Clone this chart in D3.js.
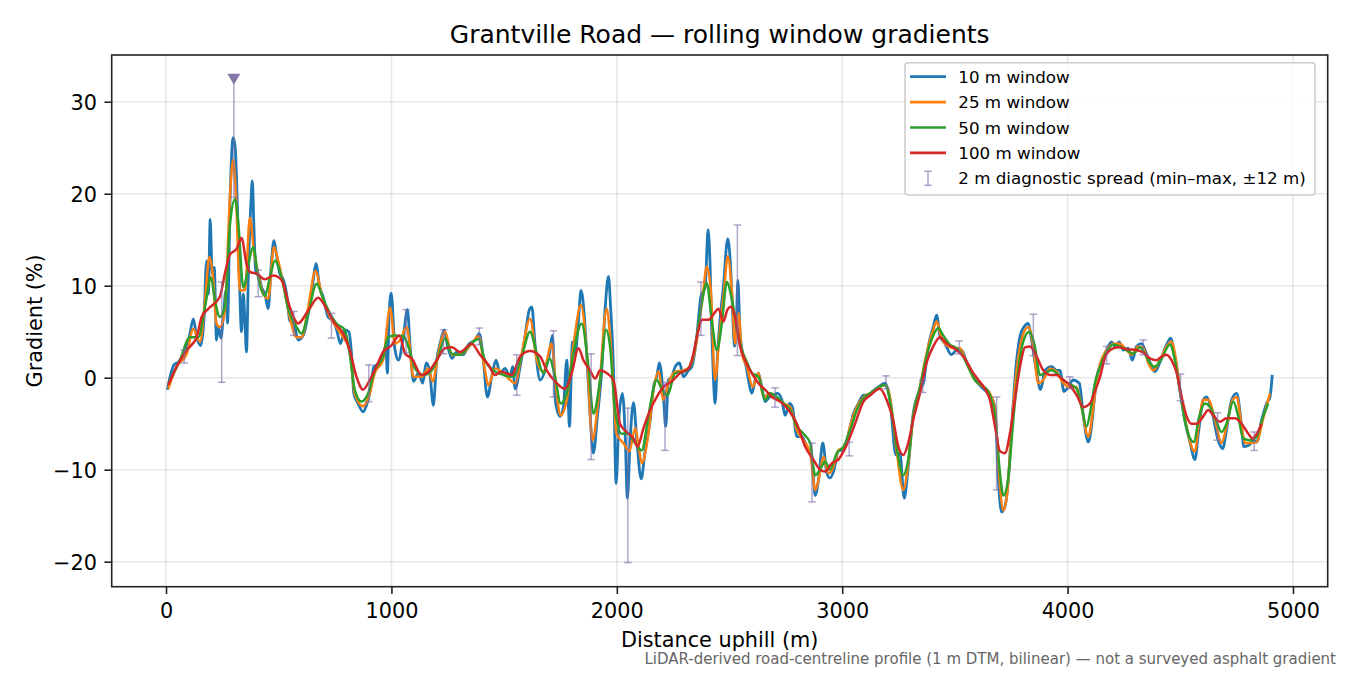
<!DOCTYPE html>
<html>
<head>
<meta charset="utf-8">
<script src="https://cdn.jsdelivr.net/npm/d3@7"></script>
<style>
  body { margin: 0; background: #fff; }
  svg { display: block; font-family: "DejaVu Sans", sans-serif; }
</style>
</head>
<body>
<div id="chart"></div>
<script>
// [distance uphill (m), gradient (%)]
const win10 = [
  [6,-1.3],[18,0.1],[35,1.4],[55,1.7],[77,2.6],[103,4.4],[121,6.4],[136,4.4],[154,3.5],[168,6.2],
  [180,12.7],[188,9.1],[196,17.2],[205,11.3],[214,12.0],[224,4.1],[232,5.5],[244,4.3],[254,6.6],
  [266,9.5],[273,5.9],[284,19.2],[298,26.1],[307,25.0],[316,19.2],[325,11.3],[335,5.0],[343,9.1],
  [350,6.2],[357,2.8],[366,12.0],[377,19.2],[383,21.4],[390,16.3],[399,11.3],[409,11.3],[424,9.8],
  [439,9.1],[453,7.5],[468,12.7],[479,14.9],[490,13.4],[505,11.3],[520,10.7],[535,9.1],[549,6.2],
  [567,5.9],[586,4.1],[609,4.6],[631,7.0],[653,10.6],[665,12.4],[682,9.8],[697,8.8],[719,6.6],
  [741,6.2],[756,5.3],[774,3.7],[793,5.2],[811,5.0],[823,2.6],[833,-1.7],[852,-2.8],[874,-3.7],
  [892,-2.8],[907,-1.3],[922,1.2],[941,1.5],[963,2.6],[975,3.4],[982,0.5],[990,7.0],[999,9.2],
  [1016,3.0],[1031,1.9],[1053,4.5],[1071,7.4],[1083,3.4],[1098,-0.4],[1120,0.5],[1139,-0.6],
  [1154,1.6],[1169,0.8],[1186,-3.0],[1201,1.9],[1216,3.7],[1234,5.2],[1248,3.6],[1268,2.1],
  [1290,2.8],[1319,2.5],[1342,3.6],[1371,4.1],[1390,4.8],[1405,2.6],[1426,-2.1],[1445,0.1],
  [1464,1.9],[1482,0.5],[1504,1.0],[1526,0.1],[1538,1.2],[1549,-1.2],[1571,1.2],[1593,4.5],
  [1612,7.4],[1623,7.7],[1637,3.7],[1660,-0.25],[1682,0.8],[1701,2.6],[1714,4.6],[1729,-2.8],
  [1748,-4.2],[1763,-3.2],[1778,1.9],[1790,-5.3],[1803,3.9],[1815,2.6],[1830,6.3],[1841,9.5],
  [1855,7.0],[1867,2.3],[1881,-3.9],[1896,-8.2],[1914,-4.2],[1933,0.8],[1948,7.4],[1963,11.0],
  [1973,7.4],[1985,1.2],[1997,-11.5],[2010,-4.2],[2025,-1.7],[2037,-6.1],[2047,-13.1],[2059,-6.8],
  [2074,-2.7],[2090,-7.2],[2108,-11.0],[2126,-7.9],[2148,-4.6],[2163,-1.0],[2177,0.1],[2189,1.6],
  [2207,-2.1],[2217,-5.3],[2229,-0.25],[2244,0.1],[2259,1.2],[2278,1.6],[2296,0.1],[2318,0.8],
  [2333,1.2],[2355,4.5],[2373,8.8],[2392,9.9],[2405,16.1],[2414,12.1],[2421,5.2],[2429,-0.25],
  [2436,-2.8],[2447,2.6],[2458,6.3],[2473,9.9],[2492,15.1],[2503,12.8],[2513,7.7],[2522,3.4],
  [2529,4.5],[2537,10.6],[2547,4.8],[2559,2.6],[2574,1.2],[2584,-0.25],[2599,-1.7],[2614,-0.25],
  [2628,0.5],[2643,-1.0],[2658,-2.6],[2677,-2.1],[2695,-1.9],[2713,-1.7],[2732,-2.4],[2747,-4.1],
  [2766,-2.8],[2779,-3.2],[2799,-6.4],[2821,-6.4],[2843,-7.5],[2865,-8.6],[2880,-12.8],[2895,-11.1],
  [2914,-7.1],[2932,-10.4],[2946,-10.9],[2964,-10.0],[2983,-7.9],[3006,-7.9],[3028,-6.1],
  [3050,-3.9],[3072,-2.8],[3094,-1.9],[3117,-1.9],[3139,-1.4],[3161,-1.0],[3190,-0.6],[3212,-2.4],
  [3238,-8.4],[3256,-8.2],[3275,-13.1],[3293,-9.7],[3315,-3.9],[3345,-1.3],[3360,-0.6],[3382,3.4],
  [3404,5.5],[3419,6.8],[3434,4.5],[3456,3.7],[3485,2.5],[3508,3.0],[3530,3.0],[3552,1.7],
  [3574,0.5],[3596,-0.4],[3626,-1.2],[3648,-1.7],[3678,-3.2],[3692,-10.8],[3707,-14.6],
  [3722,-14.0],[3737,-11.1],[3752,-5.3],[3771,1.2],[3789,4.5],[3806,5.5],[3826,5.9],[3840,4.1],
  [3863,0.5],[3880,-1.3],[3900,0.8],[3929,1.2],[3951,0.8],[3966,0.8],[3984,-1.5],[4003,-1.0],
  [4025,-0.25],[4052,-0.6],[4070,-4.2],[4092,-7.0],[4105,-5.5],[4118,-2.5],[4129,0.0],[4151,1.6],
  [4173,3.0],[4195,3.9],[4210,3.4],[4229,3.9],[4247,3.0],[4269,3.2],[4287,1.9],[4306,3.4],
  [4328,3.7],[4350,2.6],[4373,1.2],[4387,0.65],[4410,1.7],[4436,3.4],[4457,4.3],[4476,2.3],
  [4498,-1.3],[4520,-4.6],[4543,-7.0],[4565,-8.9],[4580,-6.1],[4602,-2.4],[4617,-2.1],[4639,-3.5],
  [4668,-6.8],[4688,-7.7],[4705,-5.7],[4728,-2.4],[4750,-1.7],[4772,-5.3],[4782,-7.5],[4806,-7.3],
  [4824,-6.8],[4839,-7.0],[4861,-4.6],[4883,-2.8],[4898,-2.1],[4908,0.3]
]

const win25 = [
  [10,-1.2],[47,1.2],[92,2.6],[121,5.3],[151,3.9],[173,8.4],[192,13.1],[207,11.3],[224,5.9],
  [239,5.5],[261,7.3],[284,19.9],[298,23.7],[310,19.9],[328,9.5],[350,9.5],[372,17.4],[390,13.8],
  [409,11.3],[431,9.1],[453,8.6],[479,14.2],[498,12.7],[520,10.2],[549,6.6],[579,4.4],[601,4.4],
  [631,7.7],[663,11.6],[690,9.1],[727,6.6],[756,5.5],[786,4.4],[815,3.0],[837,-1.7],[874,-3.1],
  [904,-1.7],[926,0.5],[963,1.9],[994,7.6],[1016,3.7],[1038,4.1],[1068,5.5],[1098,0.1],[1134,0.1],
  [1164,1.0],[1183,-0.4],[1208,2.6],[1238,5.0],[1268,2.5],[1312,2.6],[1356,3.7],[1386,4.5],
  [1415,0.8],[1430,-0.8],[1460,1.0],[1504,0.3],[1549,-0.6],[1578,2.6],[1615,6.4],[1645,1.9],
  [1674,0.65],[1711,3.7],[1733,-1.7],[1751,-4.1],[1778,-2.4],[1807,3.4],[1841,7.9],[1867,2.6],
  [1892,-6.8],[1918,-2.4],[1955,7.5],[1973,3.7],[1999,-6.1],[2029,-7.1],[2056,-8.0],[2081,-5.5],
  [2100,-8.0],[2111,-9.3],[2140,-6.1],[2163,-1.3],[2185,0.65],[2207,-2.4],[2229,-0.6],[2259,0.65],
  [2296,0.8],[2325,1.2],[2355,4.1],[2381,8.8],[2399,12.1],[2417,9.5],[2436,-0.25],[2455,4.5],
  [2476,9.5],[2492,13.2],[2510,9.5],[2525,3.7],[2540,7.0],[2555,2.6],[2577,1.2],[2603,-1.0],
  [2628,0.5],[2651,-2.1],[2680,-1.7],[2710,-2.2],[2740,-2.8],[2769,-3.2],[2799,-5.7],[2828,-6.8],
  [2858,-8.2],[2880,-12.2],[2895,-11.1],[2917,-8.6],[2939,-10.4],[2961,-9.7],[2983,-7.9],
  [3013,-7.5],[3035,-5.3],[3065,-3.2],[3094,-2.1],[3124,-1.7],[3153,-1.2],[3190,-0.8],[3212,-2.1],
  [3241,-7.9],[3271,-12.2],[3293,-9.3],[3315,-4.2],[3345,-1.0],[3374,2.6],[3404,5.2],[3419,6.1],
  [3441,4.3],[3471,3.4],[3500,3.2],[3522,3.2],[3552,1.6],[3589,-0.25],[3626,-1.0],[3655,-1.7],
  [3678,-3.5],[3697,-10.8],[3715,-14.4],[3732,-12.6],[3752,-5.3],[3774,0.8],[3800,4.5],[3826,5.5],
  [3848,3.4],[3870,-0.6],[3892,-0.25],[3922,1.0],[3951,0.65],[3981,-0.6],[4010,-1.0],[4040,-1.0],
  [4062,-3.2],[4092,-6.4],[4110,-4.0],[4125,-1.0],[4143,1.4],[4173,3.0],[4203,3.7],[4232,3.7],
  [4262,3.0],[4284,2.5],[4313,3.4],[4336,3.2],[4358,1.6],[4380,0.8],[4410,1.9],[4439,3.4],
  [4461,3.9],[4481,1.9],[4501,-1.7],[4528,-5.3],[4550,-7.5],[4565,-8.0],[4584,-4.6],[4602,-2.4],
  [4624,-2.4],[4654,-4.6],[4683,-7.1],[4705,-5.3],[4732,-2.4],[4750,-2.1],[4772,-5.3],[4787,-7.1],
  [4809,-7.1],[4839,-7.0],[4868,-4.4],[4898,-1.7]
]

const win50 = [
  [18,-0.25],[62,1.9],[106,4.4],[143,4.4],[173,7.7],[199,10.9],[217,8.4],[239,6.6],[261,7.7],
  [284,16.7],[306,19.4],[321,16.7],[343,9.8],[357,10.9],[372,13.1],[387,14.2],[409,10.9],[439,8.9],
  [461,10.9],[483,12.7],[513,10.9],[542,7.5],[579,5.5],[601,4.8],[631,7.0],[668,10.2],[697,8.6],
  [727,7.0],[756,5.9],[793,5.2],[815,2.6],[837,-1.3],[867,-2.6],[897,-1.7],[926,0.8],[963,2.3],
  [985,4.4],[1015,4.6],[1053,4.5],[1075,3.4],[1105,1.0],[1142,0.3],[1179,0.8],[1208,2.3],
  [1238,4.3],[1268,2.6],[1305,2.5],[1349,3.6],[1386,4.2],[1415,1.9],[1452,0.8],[1497,0.3],
  [1541,0.1],[1578,2.3],[1615,5.0],[1645,2.6],[1674,0.5],[1701,2.1],[1726,0.1],[1751,-2.8],
  [1778,-1.7],[1807,2.6],[1844,5.9],[1874,1.2],[1896,-3.9],[1926,-0.25],[1952,5.2],[1970,3.4],
  [1992,-3.5],[2022,-6.1],[2051,-6.1],[2081,-7.1],[2111,-7.9],[2133,-5.3],[2155,-2.1],[2177,-0.25],
  [2199,-1.2],[2225,-1.9],[2259,0.5],[2296,0.65],[2325,1.2],[2355,4.5],[2377,8.1],[2399,10.3],
  [2421,6.3],[2444,3.0],[2466,5.9],[2488,10.4],[2510,8.6],[2532,5.5],[2555,3.0],[2577,1.7],
  [2599,0.5],[2628,0.1],[2658,-2.4],[2680,-1.7],[2710,-2.1],[2740,-2.8],[2769,-3.5],[2799,-5.3],
  [2828,-6.1],[2858,-7.1],[2880,-10.6],[2902,-10.0],[2924,-9.1],[2946,-10.0],[2976,-8.2],
  [3006,-7.5],[3035,-5.7],[3065,-3.5],[3094,-2.2],[3124,-1.7],[3153,-1.2],[3190,-0.8],[3219,-3.5],
  [3241,-7.5],[3271,-10.6],[3293,-8.9],[3315,-4.2],[3345,-1.0],[3374,2.3],[3404,4.6],[3426,5.4],
  [3448,4.6],[3478,3.6],[3508,3.2],[3530,2.6],[3559,1.2],[3589,-0.25],[3618,-0.8],[3648,-1.5],
  [3678,-4.2],[3700,-10.4],[3715,-12.8],[3737,-10.8],[3759,-4.6],[3781,0.8],[3803,3.9],[3830,5.0],
  [3855,3.4],[3877,0.3],[3900,0.5],[3929,0.8],[3959,0.3],[3988,-0.4],[4018,-0.8],[4040,-1.2],
  [4062,-3.2],[4084,-5.3],[4102,-3.5],[4121,-0.6],[4143,1.1],[4173,2.8],[4203,3.6],[4232,3.4],
  [4262,3.0],[4291,2.6],[4321,3.3],[4343,2.6],[4365,1.6],[4387,1.2],[4417,2.1],[4454,3.6],
  [4476,1.9],[4498,-1.3],[4520,-4.6],[4543,-6.6],[4560,-7.0],[4584,-4.2],[4609,-2.8],[4632,-3.2],
  [4658,-4.6],[4683,-5.9],[4705,-5.0],[4735,-2.6],[4757,-4.2],[4779,-6.6],[4809,-6.8],[4839,-6.4],
  [4868,-4.2],[4890,-2.8]
]

const win100 = [
  [10,-0.8],[47,1.2],[92,3.0],[136,4.4],[158,6.6],[188,7.5],[239,8.8],[261,11.3],[284,13.4],
  [313,14.0],[335,15.2],[357,12.4],[372,11.5],[402,11.3],[439,10.7],[476,11.1],[513,10.6],
  [549,7.7],[586,5.9],[631,7.3],[675,8.7],[712,7.5],[749,5.9],[786,4.8],[815,3.0],[845,0.1],
  [874,-1.3],[904,-0.25],[933,1.2],[963,2.8],[1000,3.5],[1035,4.6],[1061,2.6],[1090,2.1],
  [1134,0.3],[1164,0.65],[1201,1.9],[1238,3.2],[1268,3.3],[1305,2.8],[1356,3.7],[1393,2.5],
  [1430,1.4],[1460,0.3],[1489,0.65],[1534,0.3],[1571,2.3],[1615,2.9],[1660,2.3],[1689,0.8],
  [1726,-0.4],[1770,-1.2],[1800,0.5],[1830,3.2],[1852,1.9],[1881,0.8],[1904,-0.1],[1926,0.8],
  [1955,0.5],[1985,-0.25],[2014,-5.0],[2044,-5.9],[2074,-6.6],[2092,-7.5],[2118,-5.5],[2148,-3.5],
  [2177,-2.1],[2207,-1.0],[2244,-0.4],[2281,0.5],[2318,1.0],[2340,2.6],[2362,5.2],[2377,6.3],
  [2407,6.3],[2432,7.0],[2451,7.5],[2473,6.1],[2491,7.4],[2506,7.7],[2525,6.6],[2547,3.4],
  [2569,1.9],[2599,0.5],[2628,-0.6],[2658,-1.3],[2688,-2.1],[2725,-2.6],[2762,-3.5],[2799,-5.0],
  [2836,-7.5],[2872,-8.9],[2902,-10.0],[2924,-10.2],[2954,-9.3],[2983,-8.9],[3020,-7.3],
  [3057,-5.0],[3094,-2.6],[3125,-1.9],[3167,-1.2],[3197,-2.4],[3226,-4.6],[3249,-7.5],[3271,-8.4],
  [3293,-7.1],[3315,-4.6],[3345,-1.7],[3374,1.6],[3404,3.4],[3434,4.4],[3463,3.7],[3508,3.0],
  [3544,2.1],[3574,0.8],[3604,-0.25],[3633,-1.2],[3655,-2.4],[3678,-5.3],[3700,-8.0],[3722,-8.2],
  [3744,-6.1],[3766,-2.4],[3789,1.2],[3811,3.3],[3833,3.4],[3863,2.3],[3892,0.8],[3922,0.3],
  [3951,0.3],[3981,-0.25],[4010,-0.8],[4040,-1.9],[4070,-3.2],[4099,-2.8],[4121,-1.5],[4143,0.0],
  [4166,2.2],[4195,3.1],[4225,3.3],[4262,3.1],[4306,3.0],[4343,2.6],[4365,2.1],[4395,1.9],
  [4417,2.3],[4439,2.5],[4461,1.9],[4484,0.5],[4506,-2.1],[4528,-4.2],[4550,-5.0],[4572,-5.0],
  [4602,-4.2],[4624,-3.5],[4646,-4.1],[4676,-4.8],[4705,-4.4],[4742,-4.4],[4772,-5.0],[4802,-6.1],
  [4821,-6.6],[4839,-6.1],[4861,-5.0]
]

// 2 m diagnostic spread: position, min, max
const spreadDist = [81, 247, 301, 409, 567, 734, 900, 1065, 1231, 1390, 1556, 1719, 1886, 2049,
  2214, 2373, 2535, 2702, 2866, 3031, 3194, 3357, 3519, 3685, 3848, 4010, 4173, 4336, 4501, 4665, 4828]
const spreadMin = [1.6, -0.5, 19.6, 8.8, 4.6, 4.3, -2.6, 2.7, 2.6, 3.6, -1.9, -2.1, -8.9, -20.1,
  -7.9, 4.6, 2.4, -3.2, -13.5, -8.5, -1.2, -1.6, 2.6, -12.2, 2.4, -1.2, 1.5, 2.5, -2.5, -6.8, -7.9]
const spreadMax = [3.0, 10.4, 32.5, 11.7, 7.2, 7.0, 1.4, 7.4, 5.2, 5.4, 2.5, 5.1, 2.6, -3.3,
  -0.5, 10.4, 16.6, -1.1, -7.1, -7.0, 0.2, -0.3, 4.0, -2.1, 6.9, 0.1, 3.4, 4.1, 0.4, -3.8, -5.9]
const spreadClip = 32.5

const distanceTicks = [0, 1000, 2000, 3000, 4000, 5000]
const gradientTicks = [-20, -10, 0, 10, 20, 30]

const seriesNames = ['10 m window', '25 m window', '50 m window', '100 m window']
const seriesColors = ['#1f77b4', '#ff7f0e', '#2ca02c', '#d62728']
const seriesData = [win10, win25, win50, win100]
const spreadColor = '#7c6aa8'

const width = 1350
const height = 675
const plot = {left: 111.7, right: 1327.7, top: 55, bottom: 586.7}

const x = d3.scaleLinear()
  .domain([-241, 5154])
  .range([plot.left, plot.right])
const y = d3.scaleLinear()
  .domain([-22.72, 35.08])
  .range([plot.bottom, plot.top])

const fmt = (d) => d < 0 ? '\u2212' + Math.abs(d) : String(d)

const svg = d3.select('#chart').append('svg')
  .attr('width', width)
  .attr('height', height)

svg.append('rect')
  .attr('width', width)
  .attr('height', height)
  .attr('fill', '#fff')

svg.append('defs').append('clipPath')
  .attr('id', 'plot-clip')
  .append('rect')
    .attr('x', plot.left)
    .attr('y', plot.top)
    .attr('width', plot.right - plot.left)
    .attr('height', plot.bottom - plot.top)

// grid
const grid = svg.append('g')
  .attr('stroke', '#b0b0b0')
  .attr('stroke-opacity', 0.3)
  .attr('stroke-width', 1.6)
grid.selectAll('.gx').data(distanceTicks)
  .enter().append('line')
    .attr('x1', (d) => x(d)).attr('x2', (d) => x(d))
    .attr('y1', plot.top).attr('y2', plot.bottom)
grid.selectAll('.gy').data(gradientTicks)
  .enter().append('line')
    .attr('x1', plot.left).attr('x2', plot.right)
    .attr('y1', (d) => y(d)).attr('y2', (d) => y(d))

// lines
const line = d3.line()
  .x((d) => x(d[0]))
  .y((d) => y(d[1]))
  .curve(d3.curveMonotoneX)

const lines = svg.append('g').attr('clip-path', 'url(#plot-clip)')
lines.selectAll('path').data(seriesData)
  .enter().append('path')
    .attr('d', line)
    .attr('fill', 'none')
    .attr('stroke', (d, i) => seriesColors[i])
    .attr('stroke-width', (d, i) => i === 0 ? 2.8 : 2.5)
    .attr('stroke-linejoin', 'round')

// diagnostic spread error bars
const spread = svg.append('g')
  .attr('stroke', spreadColor)
  .attr('stroke-opacity', 0.6)
  .attr('stroke-width', 1.5)
const spreadRows = spreadDist.map((d, i) => ({d, lo: spreadMin[i], hi: spreadMax[i]}))
spread.selectAll('.bar').data(spreadRows)
  .enter().append('line')
    .attr('x1', (r) => x(r.d)).attr('x2', (r) => x(r.d))
    .attr('y1', (r) => y(r.lo)).attr('y2', (r) => y(r.hi))
spread.selectAll('.cap-lo').data(spreadRows)
  .enter().append('line')
    .attr('x1', (r) => x(r.d) - 3.8).attr('x2', (r) => x(r.d) + 3.8)
    .attr('y1', (r) => y(r.lo)).attr('y2', (r) => y(r.lo))
spread.selectAll('.cap-hi').data(spreadRows.filter((r) => r.hi < spreadClip))
  .enter().append('line')
    .attr('x1', (r) => x(r.d) - 3.8).attr('x2', (r) => x(r.d) + 3.8)
    .attr('y1', (r) => y(r.hi)).attr('y2', (r) => y(r.hi))

// clipped marker
svg.selectAll('.clip-mark').data(spreadRows.filter((r) => r.hi >= spreadClip))
  .enter().append('path')
    .attr('d', (r) => {
      const cx = x(r.d), cy = y(r.hi)
      return `M${cx - 6.5},${cy - 5} L${cx + 6.5},${cy - 5} L${cx},${cy + 6} Z`
    })
    .attr('fill', '#8676a8')

// axes
const xAxis = svg.append('g')
  .attr('transform', `translate(0, ${plot.bottom})`)
  .call(d3.axisBottom(x).tickValues(distanceTicks).tickFormat(fmt).tickSize(7.3).tickPadding(9.2))
const yAxis = svg.append('g')
  .attr('transform', `translate(${plot.left}, 0)`)
  .call(d3.axisLeft(y).tickValues(gradientTicks).tickFormat(fmt).tickSize(7.3).tickPadding(7.4))
yAxis.selectAll('text').attr('dy', '0.36em')
for (const ax of [xAxis, yAxis]) {
  ax.select('.domain').remove()
  ax.selectAll('line').attr('stroke', '#222').attr('stroke-width', 1.6)
  ax.selectAll('text')
    .attr('font-family', '"DejaVu Sans", sans-serif')
    .attr('font-size', 20.8)
    .attr('fill', '#000')
}

svg.append('rect')
  .attr('x', plot.left)
  .attr('y', plot.top)
  .attr('width', plot.right - plot.left)
  .attr('height', plot.bottom - plot.top)
  .attr('fill', 'none')
  .attr('stroke', '#222')
  .attr('stroke-width', 1.6)

// texts
svg.append('text')
  .attr('x', (plot.left + plot.right) / 2)
  .attr('y', 42.5)
  .attr('text-anchor', 'middle')
  .attr('font-size', 25)
  .text('Grantville Road \u2014 rolling window gradients')

svg.append('text')
  .attr('x', (plot.left + plot.right) / 2)
  .attr('y', 647)
  .attr('text-anchor', 'middle')
  .attr('font-size', 20.8)
  .text('Distance uphill (m)')

svg.append('text')
  .attr('transform', `translate(41.7, ${(plot.top + plot.bottom) / 2}) rotate(-90)`)
  .attr('text-anchor', 'middle')
  .attr('font-size', 20.8)
  .text('Gradient (%)')

svg.append('text')
  .attr('x', 1336)
  .attr('y', 664)
  .attr('text-anchor', 'end')
  .attr('font-size', 15)
  .attr('fill', '#666')
  .text('LiDAR-derived road-centreline profile (1 m DTM, bilinear) \u2014 not a surveyed asphalt gradient')

// legend
const legend = svg.append('g')
legend.append('rect')
  .attr('x', 905)
  .attr('y', 62.7)
  .attr('width', 410)
  .attr('height', 132.3)
  .attr('rx', 3)
  .attr('fill', '#fff')
  .attr('fill-opacity', 0.8)
  .attr('stroke', '#cccccc')
  .attr('stroke-width', 1.5)

const rowY = (i) => 76.7 + i * 25.4
const legendRows = legend.selectAll('.row').data(seriesNames)
  .enter().append('g')
legendRows.append('line')
  .attr('x1', 910).attr('x2', 946)
  .attr('y1', (d, i) => rowY(i)).attr('y2', (d, i) => rowY(i))
  .attr('stroke', (d, i) => seriesColors[i])
  .attr('stroke-width', 2.7)
legendRows.append('text')
  .attr('x', 958.3)
  .attr('y', (d, i) => rowY(i) + 6)
  .attr('font-size', 16.7)
  .text((d) => d)

const ey = rowY(4)
const eb = legend.append('g')
  .attr('stroke', spreadColor)
  .attr('stroke-opacity', 0.6)
  .attr('stroke-width', 1.5)
eb.append('line').attr('x1', 928).attr('x2', 928).attr('y1', ey - 7).attr('y2', ey + 7)
eb.append('line').attr('x1', 924.2).attr('x2', 931.8).attr('y1', ey - 7).attr('y2', ey - 7)
eb.append('line').attr('x1', 924.2).attr('x2', 931.8).attr('y1', ey + 7).attr('y2', ey + 7)
legend.append('text')
  .attr('x', 958.3)
  .attr('y', ey + 6)
  .attr('font-size', 16.7)
  .text('2 m diagnostic spread (min\u2013max, \u00b112 m)')
</script>
</body>
</html>
